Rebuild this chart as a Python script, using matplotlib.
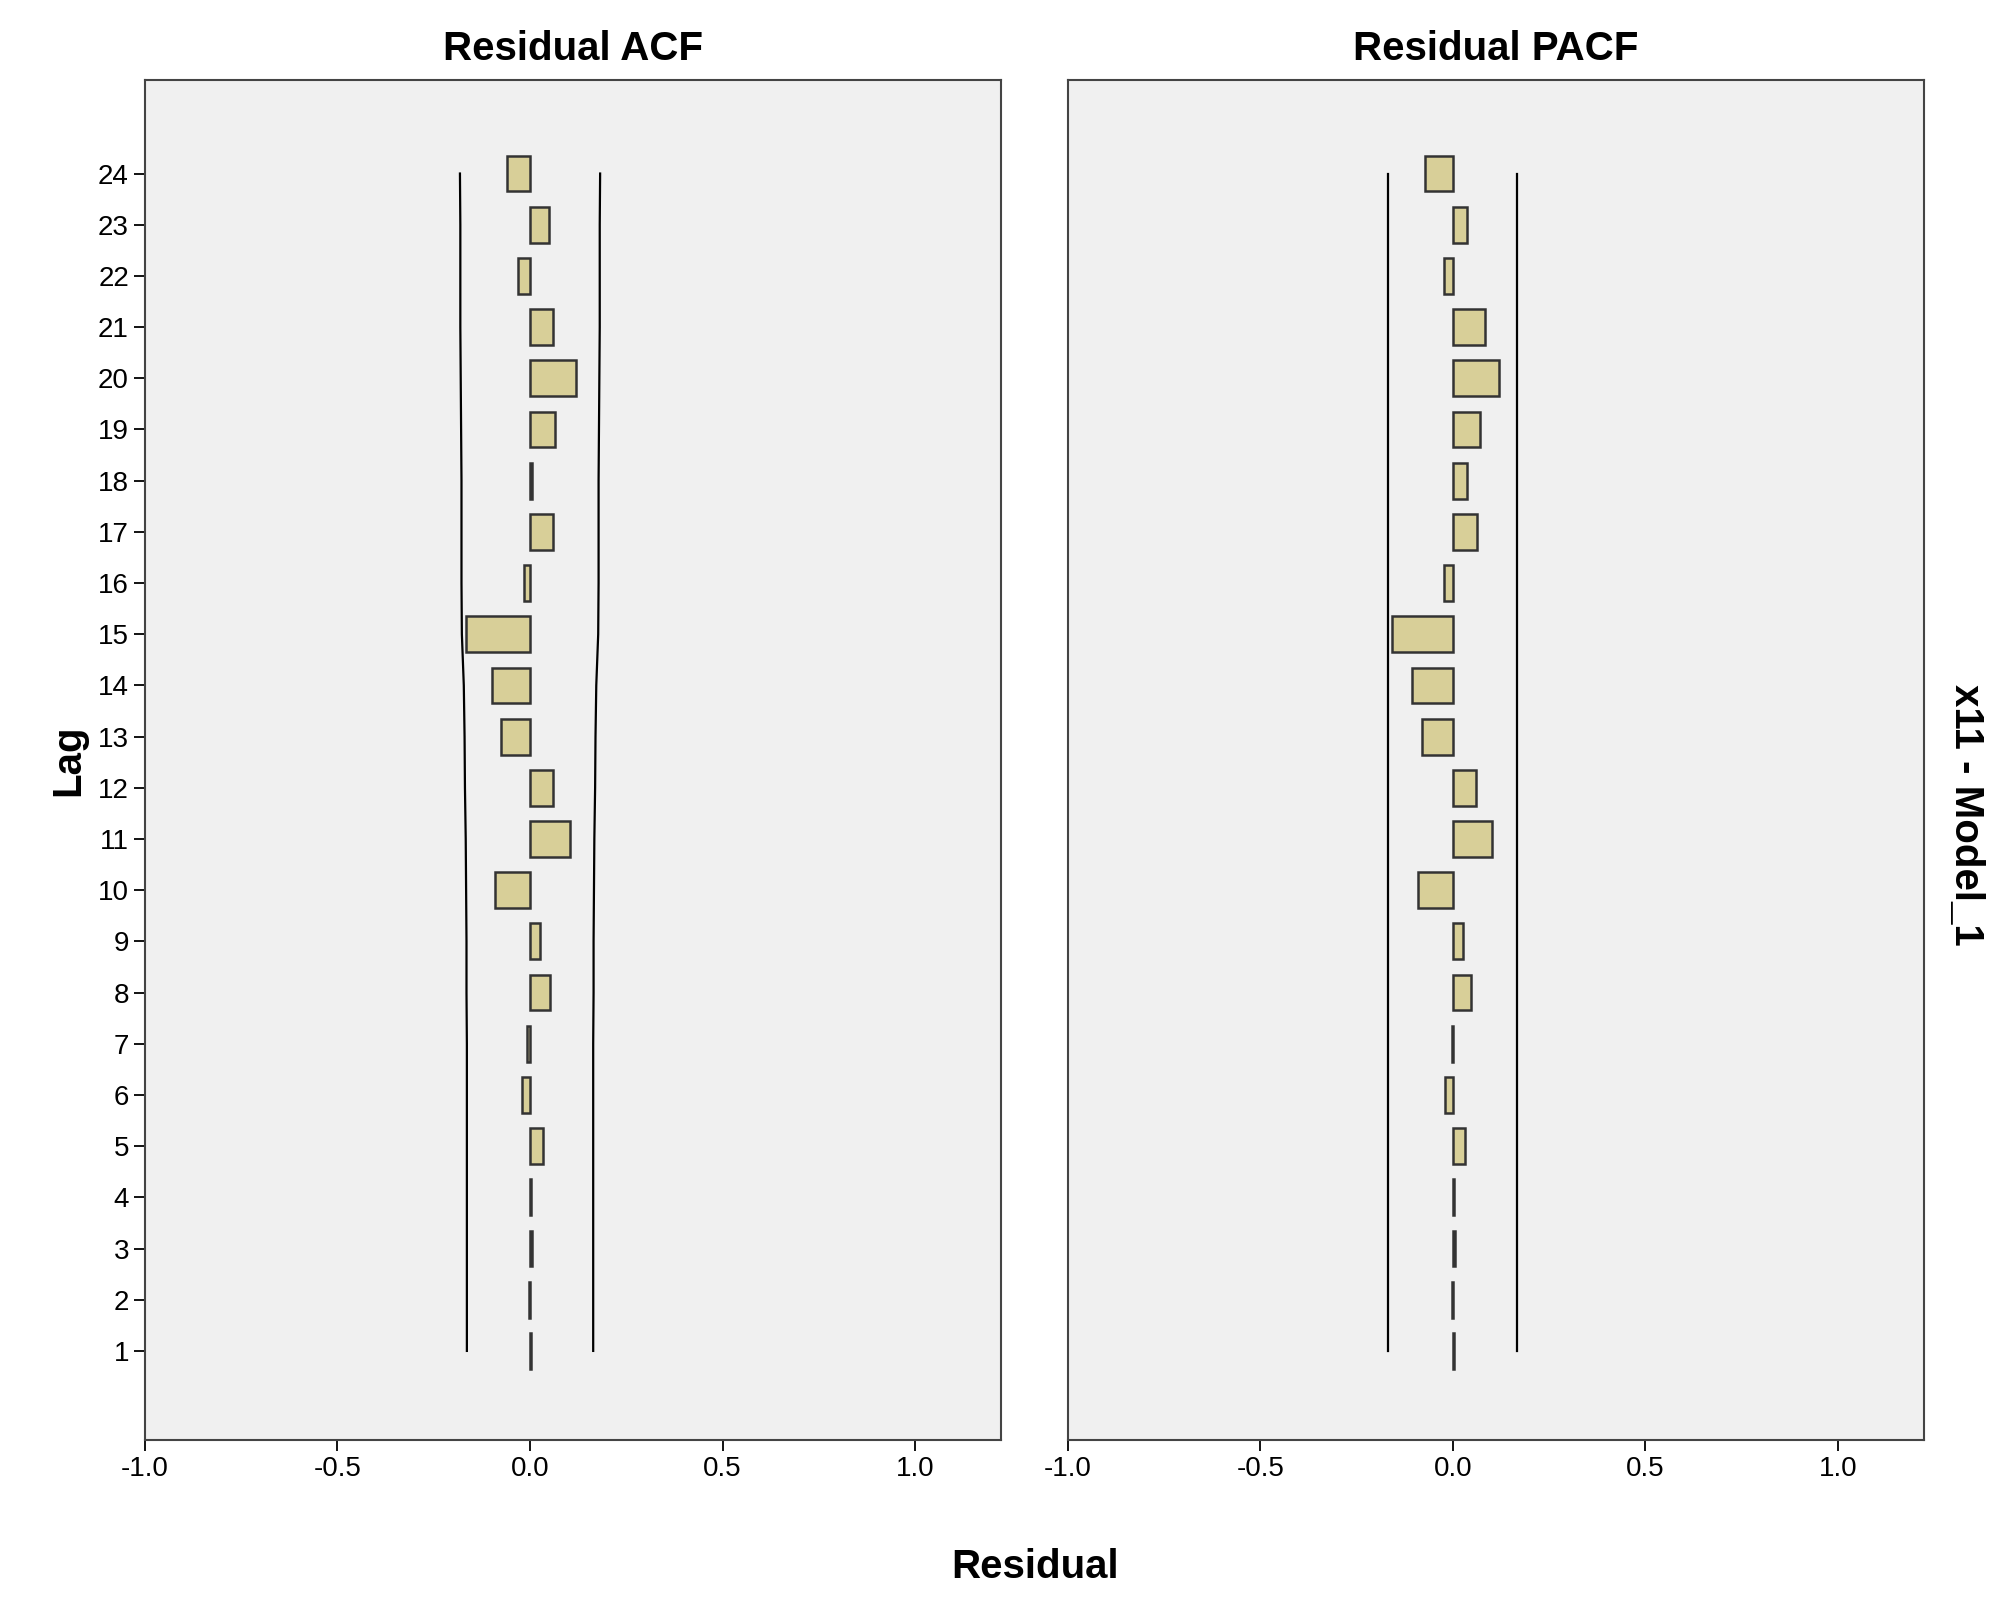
import matplotlib
matplotlib.use("Agg")
import matplotlib.pyplot as plt
import numpy as np

plt.rcParams["font.family"] = "Liberation Sans"

lags = list(range(1, 25))
acf = [0.002, -0.003, 0.005, 0.003, 0.033, -0.022, -0.008, 0.053, 0.027, -0.09,
       0.105, 0.06, -0.075, -0.10, -0.165, -0.015, 0.06, 0.005, 0.065, 0.12,
       0.06, -0.03, 0.05, -0.06]
pacf = [0.002, -0.003, 0.005, 0.003, 0.033, -0.02, -0.003, 0.047, 0.027, -0.09,
        0.103, 0.06, -0.08, -0.107, -0.157, -0.023, 0.063, 0.037, 0.07, 0.12,
        0.083, -0.023, 0.037, -0.073]
acf_limit = [0.164, 0.164, 0.164, 0.164, 0.164, 0.164, 0.164, 0.165, 0.165, 0.166,
             0.167, 0.169, 0.170, 0.172, 0.177, 0.178, 0.178, 0.178, 0.179, 0.180,
             0.181, 0.181, 0.181, 0.182]
pacf_limit = [0.167] * 24
xticks = [-1.0, -0.5, 0.0, 0.5, 1.0]

fig = plt.figure(figsize=(20.02, 15.97), dpi=100)
fig.patch.set_facecolor("white")
axes = [fig.add_axes([0.0724, 0.098, 0.4276, 0.852]),
        fig.add_axes([0.5333, 0.098, 0.4276, 0.852])]
data = [(acf, acf_limit, "Residual ACF"), (pacf, pacf_limit, "Residual PACF")]
for i, (ax, (vals, lim, title)) in enumerate(zip(axes, data)):
    ax.set_facecolor("#f0f0f0")
    ax.barh(lags, vals, height=0.7, color="#d8cf98", edgecolor="#333333", linewidth=1.8)
    ax.plot(lim, lags, color="black", lw=1.6)
    ax.plot([-v for v in lim], lags, color="black", lw=1.6)
    ax.set_xlim(-1.0, 1.223)
    ax.set_ylim(-0.75, 25.83)
    ax.set_xticks(xticks)
    ax.set_xticklabels([f"{t:.1f}" for t in xticks], fontsize=20)
    ax.set_title(title, fontsize=29, fontweight="bold", pad=14)
    for s in ax.spines.values():
        s.set_color("#444444"); s.set_linewidth(1.5)
    ax.tick_params(direction="out", length=8, width=1.3)
    if i == 0:
        ax.set_yticks(lags)
        ax.set_yticklabels([str(l) for l in lags], fontsize=20)
        ax.set_ylabel("Lag", fontsize=29, fontweight="bold", labelpad=8)
    else:
        ax.set_yticks([])
fig.text(0.517, 0.012, "Residual", ha="center", fontsize=29, fontweight="bold")
fig.text(0.982, 0.49, "x11 - Model_1", rotation=270, va="center", ha="center",
         fontsize=29, fontweight="bold")
fig.savefig("out.png", dpi=100)
